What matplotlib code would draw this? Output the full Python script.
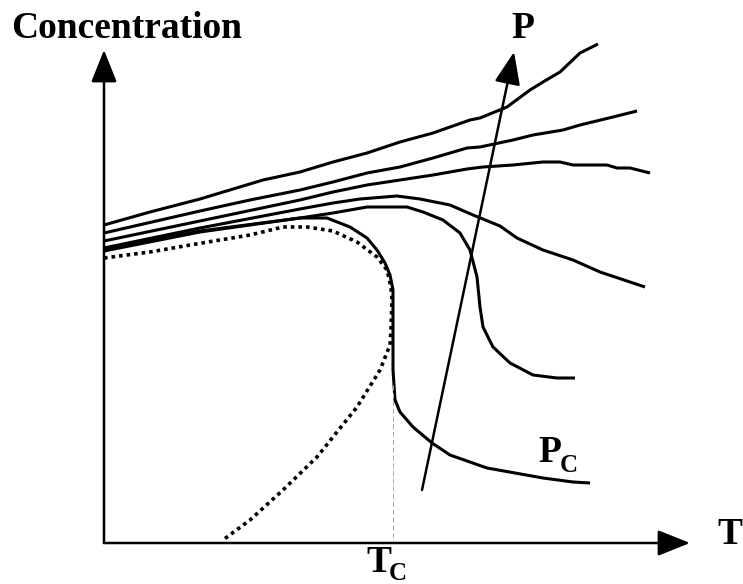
import matplotlib.pyplot as plt

# Schematic drawn in pixel space of the original picture (y grows downwards)
W, H = 743, 584

# Curves (x, y)
a_x = [104, 150, 200, 263, 300, 333, 367, 400, 433, 470, 480, 507, 530, 543, 560, 580, 598]
a_y = [225, 212, 199, 180, 172, 162, 153, 142, 133, 120, 118, 107, 90, 82, 72, 53, 44]

b_x = [104, 200, 250, 300, 333, 367, 400, 433, 467, 480, 513, 533, 563, 580, 613, 637]
b_y = [233, 211, 200, 190, 182, 173, 167, 158, 148, 147, 140, 135, 130, 125, 117, 111]

c_x = [104, 200, 300, 333, 367, 400, 433, 467, 483, 513, 543, 560, 573, 607, 617, 630, 650]
c_y = [241, 221, 200, 192, 185, 180, 175, 169, 167, 165, 162, 162, 165, 165, 168, 168, 173]

d_x = [104, 200, 300, 333, 360, 397, 420, 450, 473, 500, 517, 543, 573, 600, 645]
d_y = [248, 228, 209, 203, 199, 196, 199, 205, 215, 226, 238, 250, 260, 272, 287]

e_x = [104, 200, 300, 333, 367, 407, 423, 443, 460, 470, 477, 480, 483, 493, 510, 533, 557, 575]
e_y = [249, 231, 218, 213, 207, 207, 212, 220, 233, 250, 277, 307, 327, 347, 363, 375, 378, 378]

pc_x = [104, 200, 300, 327, 350, 367, 377, 385, 390, 393, 393, 395, 400, 413, 432, 450, 487, 543, 573, 590]
pc_y = [251, 232, 218, 218, 227, 238, 250, 263, 275, 290, 370, 400, 412, 427, 443, 455, 468, 478, 482, 483]

dot_x = [104, 150, 190, 250, 283, 307, 333, 357, 377, 387, 391, 392, 391, 390, 380, 357, 317, 283, 250, 223]
dot_y = [258, 252, 245, 235, 227, 227, 231, 242, 257, 270, 287, 300, 330, 345, 370, 407, 457, 490, 520, 540]

# axes and pressure arrow
origin = (104, 543)
y_tip = (104, 50)
x_tip = (690, 543)
p_start = (422, 490)
p_tip = (514, 52)
tc_x = 393

fig = plt.figure(figsize=(W / 100, H / 100), dpi=100)
ax = fig.add_axes([0, 0, 1, 1])
ax.set_xlim(0, W)
ax.set_ylim(H, 0)
ax.axis('off')

for xs, ys in [(a_x, a_y), (b_x, b_y), (c_x, c_y), (d_x, d_y), (e_x, e_y), (pc_x, pc_y)]:
    ax.plot(xs, ys, color='black', lw=2.2, solid_capstyle='butt')
ax.plot(dot_x, dot_y, color='black', lw=2.6, linestyle=(0, (1.0, 1.1)))

# Tc guide line
ax.plot([tc_x, tc_x], [385, origin[1]], color='#aaaaaa', lw=0.7, linestyle=(0, (5, 3)))

arrow = dict(arrowstyle='-|>,head_length=0.5,head_width=0.2', color='black',
             lw=1.8, mutation_scale=40, shrinkA=0, shrinkB=0)
ax.annotate('', xy=y_tip, xytext=origin, arrowprops=arrow)
ax.annotate('', xy=x_tip, xytext=origin, arrowprops=arrow)
ax.annotate('', xy=p_tip, xytext=p_start, arrowprops=arrow)

font = dict(family='Liberation Serif', weight='bold', fontsize=27, color='black')
sub = dict(family='Liberation Serif', weight='bold', fontsize=18, color='black')
ax.text(11, 29, 'Concentration', ha='left', va='center', **font)
ax.text(523, 29, 'P', ha='center', va='center', **font)
ax.text(717, 535, 'T', ha='left', va='center', **font)
ax.text(366, 562, 'T', ha='left', va='center', **font)
ax.text(389, 573, 'C', ha='left', va='center', **sub)
ax.text(538, 453, 'P', ha='left', va='center', **font)
ax.text(560, 466, 'C', ha='left', va='center', **sub)

plt.savefig('out.png', dpi=100)
